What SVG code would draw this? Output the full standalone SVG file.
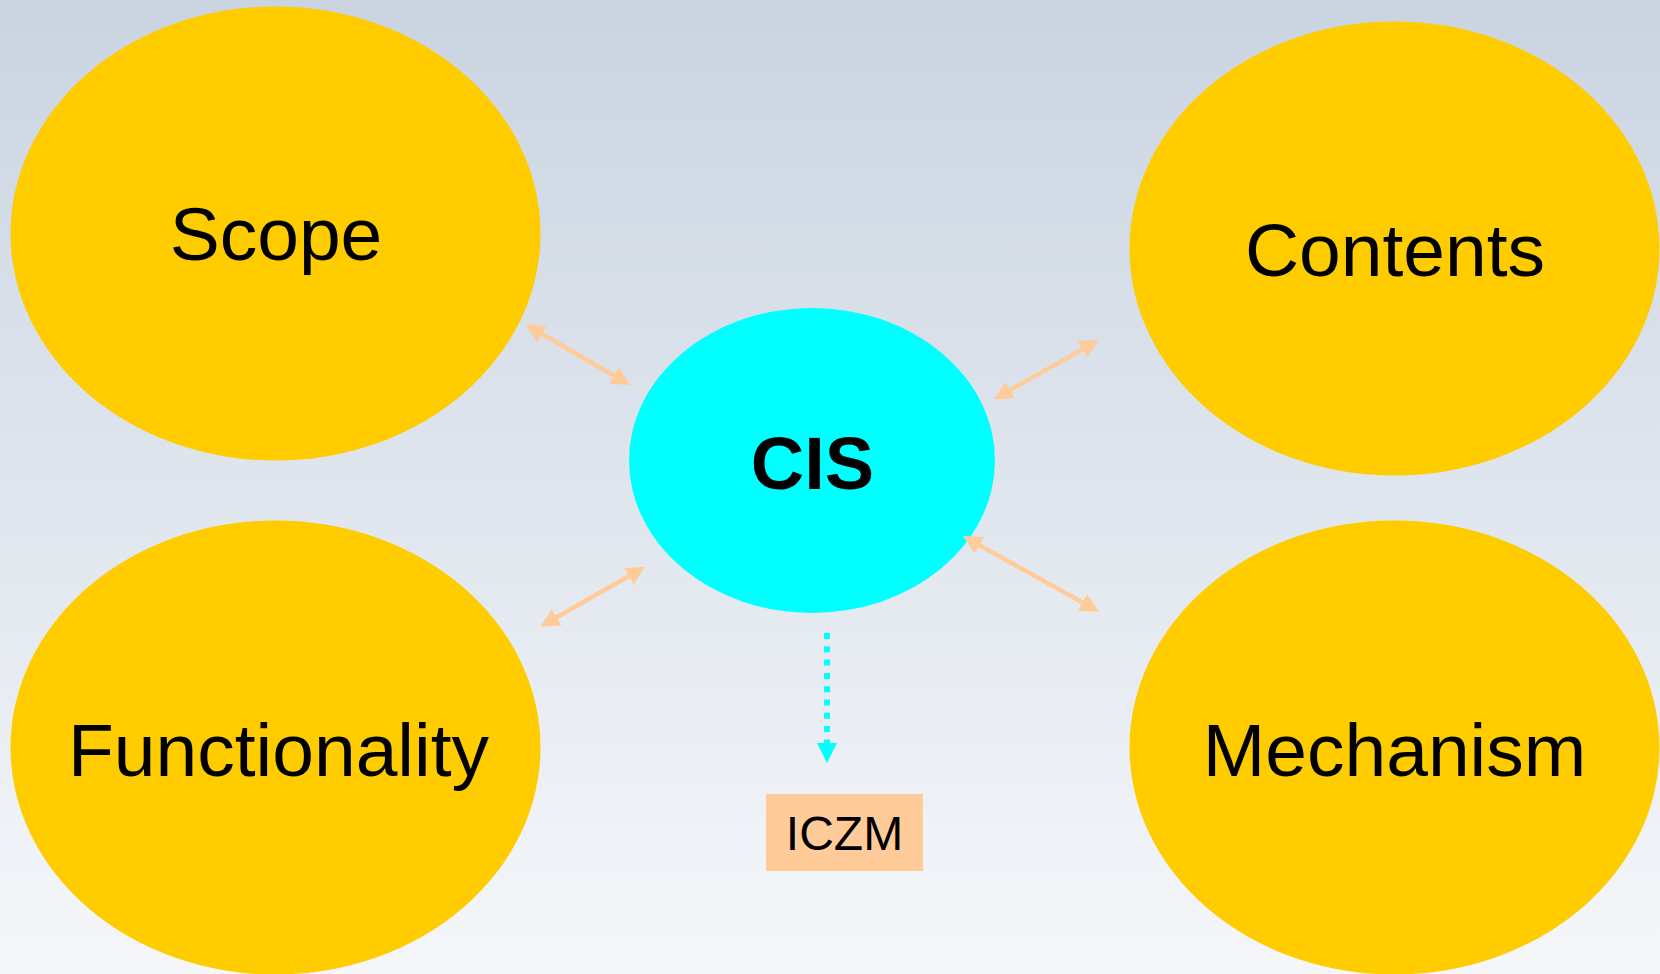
<svg xmlns="http://www.w3.org/2000/svg" width="1660" height="974" viewBox="0 0 1660 974">
<defs>
<linearGradient id="bg" x1="0" y1="0" x2="0" y2="1">
<stop offset="0" stop-color="#CAD4E1"/>
<stop offset="1" stop-color="#F5F7FA"/>
</linearGradient>
<marker id="peach" markerUnits="userSpaceOnUse" markerWidth="20" markerHeight="20" viewBox="0 0 20 20" refX="9" refY="10" orient="auto-start-reverse">
<path d="M0,0.5 L19,10 L0,19.5 z" fill="#FFCC99"/>
</marker>
<marker id="cyan" markerUnits="userSpaceOnUse" markerWidth="20" markerHeight="20" viewBox="0 0 20 20" refX="0" refY="10" orient="auto">
<path d="M0,0 L20,10 L0,20 z" fill="#00FFFF"/>
</marker>
</defs>
<style>
.big{fill:#FFCC00}
.lbl{font-family:"Liberation Sans",Arial,sans-serif;fill:#000;text-anchor:middle}
.nm{font-size:75px}
.link{stroke:#FFCC99;stroke-width:4.5;fill:none;marker-start:url(#peach);marker-end:url(#peach)}
</style>
<rect x="0" y="0" width="1660" height="974" fill="url(#bg)"/>
<g id="scope">
<ellipse class="big" cx="275.5" cy="233.5" rx="265" ry="227"/>
<text class="lbl nm" x="276" y="260">Scope</text>
</g>
<g id="contents">
<ellipse class="big" cx="1394.5" cy="248.5" rx="265" ry="227"/>
<text class="lbl nm" x="1395" y="276">Contents</text>
</g>
<g id="functionality">
<ellipse class="big" cx="275.5" cy="747.5" rx="265" ry="227"/>
<text class="lbl nm" x="278.5" y="776">Functionality</text>
</g>
<g id="mechanism">
<ellipse class="big" cx="1394.5" cy="747.5" rx="265" ry="227"/>
<text class="lbl nm" x="1394.5" y="776">Mechanism</text>
</g>
<g id="cis">
<ellipse cx="812" cy="460.5" rx="183" ry="152.5" fill="#00FFFF"/>
<text class="lbl" x="812.5" y="489" font-size="74" font-weight="bold">CIS</text>
</g>
<g id="iczm">
<rect x="766" y="794" width="157" height="77" fill="#FFCC99"/>
<text class="lbl" x="844.5" y="850" font-size="48">ICZM</text>
</g>
<g id="connectors">
<line class="link" x1="534.2" y1="329.5" x2="621.8" y2="380"/>
<line class="link" x1="1002.4" y1="394.4" x2="1090.3" y2="344.9"/>
<line class="link" x1="548.7" y1="621.7" x2="636.5" y2="571.7"/>
<line class="link" x1="971.7" y1="540.9" x2="1090.3" y2="606.8"/>
<line x1="827" y1="633" x2="827" y2="743" stroke="#00FFFF" stroke-width="6" stroke-dasharray="6 7.3" marker-end="url(#cyan)"/>
</g>
</svg>
